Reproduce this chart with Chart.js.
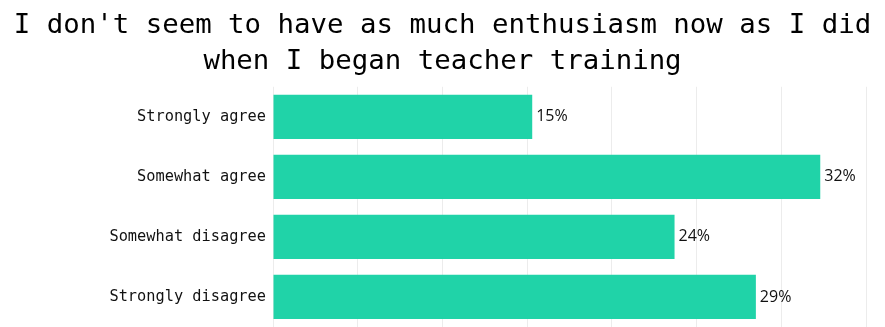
<!DOCTYPE html>
<html>
<head>
<meta charset="utf-8">
<script src="https://cdn.jsdelivr.net/npm/chart.js@4/dist/chart.umd.min.js"></script>
<style>
  body{margin:0;background:#fff;}
  .chart-box{width:885px;height:327px;}
</style>
</head>
<body>
<div class="chart-box"><canvas id="enthusiasm-graph"></canvas></div>
<script>
var answers = ["Strongly agree", "Somewhat agree", "Somewhat disagree", "Strongly disagree"];
var percents = [15.3, 32.3, 23.7, 28.5];
var titleLines = ["I don't seem to have as much enthusiasm now as I did", "when I began teacher training"];

// little plugin to write the % at the end of each bar
var barLabels = {
      id: 'barLabels',
      afterDatasetsDraw: function(chart){
            var ctx = chart.ctx;
            var meta = chart.getDatasetMeta(0);
            ctx.save();
            ctx.font = "16px 'Open Sans'";
            ctx.fillStyle = "#111";
            ctx.textAlign = "left";
            ctx.textBaseline = "middle";
            meta.data.forEach(function(bar, i){
                  ctx.fillText(Math.round(percents[i]) + "%", bar.x + 4, bar.y);
            });
            ctx.restore();
      }
};

var ctx1 = document.getElementById("enthusiasm-graph");

var enthusiasmChart = new Chart(ctx1, {
      type: 'bar',
      data: {
            labels: answers,
            datasets: [{
                  data: percents,
                  backgroundColor: "rgb(32, 211, 168)",
                  barPercentage: 0.92,
                  categoryPercentage: 0.8
            }]
      },
      options: {
            indexAxis: 'y',
            responsive: true,
            maintainAspectRatio: false,
            animation: false,
            layout: { padding: 0 },
            plugins: {
                  legend: { display: false },
                  tooltip: { enabled: false },
                  title: {
                        display: true,
                        text: titleLines,
                        color: "#000",
                        font: { family: "'DejaVu Sans Mono'", size: 27.4, weight: 'normal', lineHeight: 1.31 },
                        padding: { top: 8, bottom: 7 }
                  }
            },
            scales: {
                  x: {
                        min: 0,
                        max: 35,
                        ticks: { display: false, stepSize: 5 },
                        grid: { color: "#ececec", drawTicks: false },
                        border: { display: false },
                        afterFit: function(scale){
                              scale.height = 0;
                              scale.paddingRight = 19;
                              scale.paddingLeft = 0;
                              scale.paddingBottom = 0;
                              scale.paddingTop = 0;
                        }
                  },
                  y: {
                        ticks: {
                              color: "#111",
                              padding: 7,
                              font: { family: "'DejaVu Sans Mono'", size: 15.3 }
                        },
                        grid: { display: false, drawTicks: false },
                        border: { display: false },
                        afterFit: function(scale){
                              scale.width = 273;
                              scale.paddingTop = 0;
                              scale.paddingBottom = 0;
                        }
                  }
            }
      },
      plugins: [barLabels]
});
</script>
</body>
</html>
